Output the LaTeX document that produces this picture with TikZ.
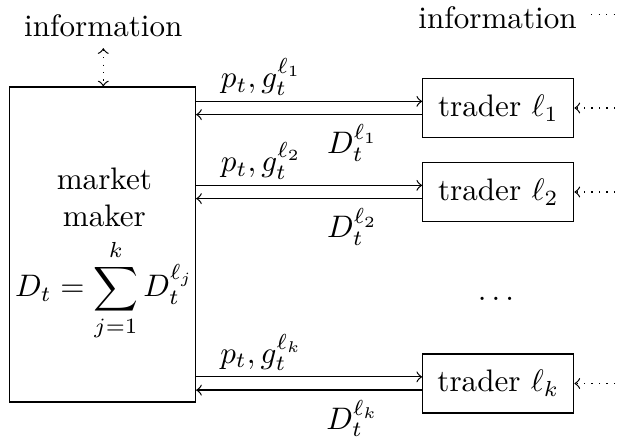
\documentclass[tikz,border=0pt]{standalone}
\usetikzlibrary{calc}
\newcommand\pxu{0.3215pt}
\begin{document}
\begin{tikzpicture}[x=0.3215pt,y=-0.3215pt,>=to,
  box/.style={draw,line width=0.4pt},
  lbl/.style={inner sep=0pt,anchor=base}]
\useasboundingbox (0,0) rectangle (620,437);
\coordinate (redge) at (630,0);
% market maker
\node[box,minimum width=186*\pxu,minimum height=315*\pxu] (mm) at (102.5,244.5) {};
\node[inner sep=0pt,align=center] (mmtext) at ([xshift=0.6pt,yshift=-3.2pt]mm.center)
  {market\\maker\\[3pt]$\displaystyle D_t=\sum_{j=1}^{k} D_t^{\ell_j}$};
% information
\node[lbl] (info1) at (103.3,37) {information};
\node[lbl] (info2) at (497.5,29) {information};
\draw[dotted,<->] ([yshift=-3.6pt]info1.base) -- (info1.base |- mm.north);
\draw[dotted] ([xshift=4.5pt,yshift=1.3pt]info2.east) -- ([yshift=1.3pt]info2.east -| redge);
% traders
\node[box,minimum width=151*\pxu,minimum height=59*\pxu] (t1) at (498.3,108) {trader $\ell_1$};
\node[box,minimum width=151*\pxu,minimum height=59*\pxu] (t2) at (498.3,192) {trader $\ell_2$};
\node[box,minimum width=151*\pxu,minimum height=59*\pxu] (tk) at (498.3,383.5) {trader $\ell_k$};
\node[lbl] (dots) at (496,300.5) {$\dots$};
% arrows
\foreach \t/\s in {t1/1,t2/2,tk/k}{
  \coordinate (a\t) at ([yshift=2.13pt]\t.west);
  \coordinate (b\t) at ([yshift=-2.13pt]\t.west);
  \draw[->] (mm.east |- a\t) -- node[lbl,pos=0.288,yshift=4.4pt] {$p_t, g_t^{\ell_\s}$} (a\t);
  \draw[->] (b\t) -- node[lbl,pos=0.308,yshift=-12.6pt] {$D_t^{\ell_\s}$} (mm.east |- b\t);
  \draw[dotted,->] (\t.east -| redge) -- (\t.east);
}
\end{tikzpicture}
\end{document}
